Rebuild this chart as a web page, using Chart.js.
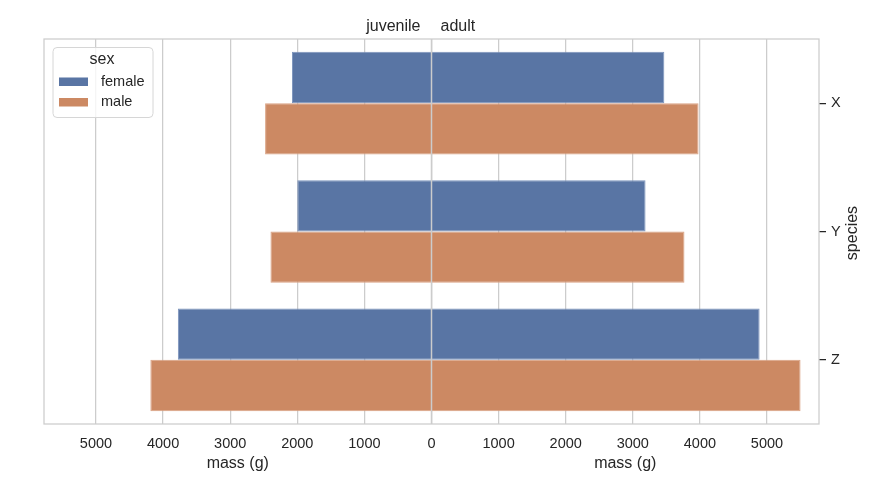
<!DOCTYPE html>
<html>
<head>
<meta charset="utf-8">
<script src="https://cdn.jsdelivr.net/npm/chart.js@4.4.0/dist/chart.umd.min.js"></script>
<style>
  html, body { margin: 0; padding: 0; background: #fff; }
  #wrap { width: 896px; height: 477px; }
</style>
</head>
<body>
<div id="wrap"><canvas id="chart" width="896" height="477"></canvas></div>
<script>
// data
const species = ["X", "Y", "Z"];
const femaleJuvenile = [2080, 2000, 3780];
const femaleAdult = [3470, 3190, 4890];
const maleJuvenile = [2480, 2400, 4190];
const maleAdult = [3980, 3770, 5500];
const massTicks = [-5000, -4000, -3000, -2000, -1000, 0, 1000, 2000, 3000, 4000, 5000];
const xLimit = 5775;

const FONT = "'Liberation Sans', Arial, sans-serif";
const TEXT = "#262626";
const GRID = "#cccccc";
const BLUE = "#5975a4";
const ORANGE = "#cc8963";

const overlay = {
  id: "overlay",
  afterDatasetsDraw(chart) {
    const ctx = chart.ctx;
    const a = chart.chartArea;
    const x0 = chart.scales.x.getPixelForValue(0);
    ctx.save();
    ctx.strokeStyle = GRID;
    ctx.lineWidth = 1.5;
    ctx.beginPath();
    ctx.moveTo(x0, a.top);
    ctx.lineTo(x0, a.bottom);
    ctx.stroke();
    ctx.restore();
  },
  afterDraw(chart) {
    const ctx = chart.ctx;
    const a = chart.chartArea;
    const xs = chart.scales.x;
    const x0 = xs.getPixelForValue(0);
    ctx.save();

    // frame
    ctx.strokeStyle = GRID;
    ctx.lineWidth = 1.25;
    ctx.strokeRect(a.left, a.top, a.right - a.left, a.bottom - a.top);

    ctx.fillStyle = TEXT;
    ctx.font = "16px " + FONT;
    ctx.textBaseline = "alphabetic";

    // title
    ctx.textAlign = "right";
    ctx.fillText("juvenile", x0 - 11, 31);
    ctx.textAlign = "left";
    ctx.fillText("adult", x0 + 9, 31);

    // x labels, one per half
    ctx.textAlign = "center";
    ctx.fillText("mass (g)", xs.getPixelForValue(-xLimit / 2), 468);
    ctx.fillText("mass (g)", xs.getPixelForValue(xLimit / 2), 468);

    // species label on the right
    ctx.save();
    ctx.translate(853, 233);
    ctx.rotate(-Math.PI / 2);
    ctx.textBaseline = "middle";
    ctx.fillText("species", 0, 0);
    ctx.restore();

    // legend
    ctx.beginPath();
    ctx.roundRect(53, 47.5, 100, 70, 4);
    ctx.fillStyle = "rgba(255,255,255,0.8)";
    ctx.fill();
    ctx.strokeStyle = "#d6d6d6";
    ctx.lineWidth = 1;
    ctx.stroke();

    ctx.fillStyle = TEXT;
    ctx.textAlign = "center";
    ctx.textBaseline = "middle";
    ctx.font = "16px " + FONT;
    ctx.fillText("sex", 102, 60);

    ctx.font = "14.5px " + FONT;
    ctx.textAlign = "left";
    ctx.fillStyle = BLUE;
    ctx.fillRect(59, 77.5, 29, 8.5);
    ctx.fillStyle = ORANGE;
    ctx.fillRect(59, 98, 29, 8.5);
    ctx.fillStyle = TEXT;
    ctx.fillText("female", 101, 81.5);
    ctx.fillText("male", 101, 102);

    ctx.restore();
  }
};

new Chart(document.getElementById("chart"), {
  type: "bar",
  data: {
    labels: species,
    datasets: [
      {
        label: "female",
        data: species.map((s, i) => [-femaleJuvenile[i], femaleAdult[i]]),
        backgroundColor: BLUE,
        borderColor: "#7b93bc",
        borderWidth: 1,
        borderSkipped: false
      },
      {
        label: "male",
        data: species.map((s, i) => [-maleJuvenile[i], maleAdult[i]]),
        backgroundColor: ORANGE,
        borderColor: "#daa283",
        borderWidth: 1,
        borderSkipped: false
      }
    ]
  },
  options: {
    indexAxis: "y",
    responsive: false,
    animation: false,
    devicePixelRatio: 1,
    layout: { padding: { left: 44, top: 39, right: 0, bottom: 0 } },
    datasets: { bar: { categoryPercentage: 0.8, barPercentage: 1.0 } },
    plugins: {
      legend: { display: false },
      tooltip: { enabled: false },
      title: { display: false }
    },
    scales: {
      x: {
        type: "linear",
        min: -xLimit,
        max: xLimit,
        afterBuildTicks: (scale) => {
          scale.ticks = massTicks.map((v) => ({ value: v }));
        },
        afterFit: (scale) => { scale.height = 53; },
        grid: { color: GRID, lineWidth: 1.25, drawTicks: false },
        border: { display: false },
        ticks: {
          color: TEXT,
          font: { family: FONT, size: 14.5 },
          padding: 11,
          maxRotation: 0,
          autoSkip: false,
          callback: (v) => String(Math.abs(v))
        }
      },
      y: {
        position: "right",
        afterFit: (scale) => { scale.width = 77; },
        grid: {
          drawOnChartArea: false,
          drawTicks: true,
          tickLength: 7,
          color: TEXT,
          lineWidth: 1.25,
          offset: false
        },
        border: { display: false },
        ticks: {
          color: TEXT,
          font: { family: FONT, size: 14.5 },
          padding: 5
        }
      }
    }
  },
  plugins: [overlay]
});
</script>
</body>
</html>
